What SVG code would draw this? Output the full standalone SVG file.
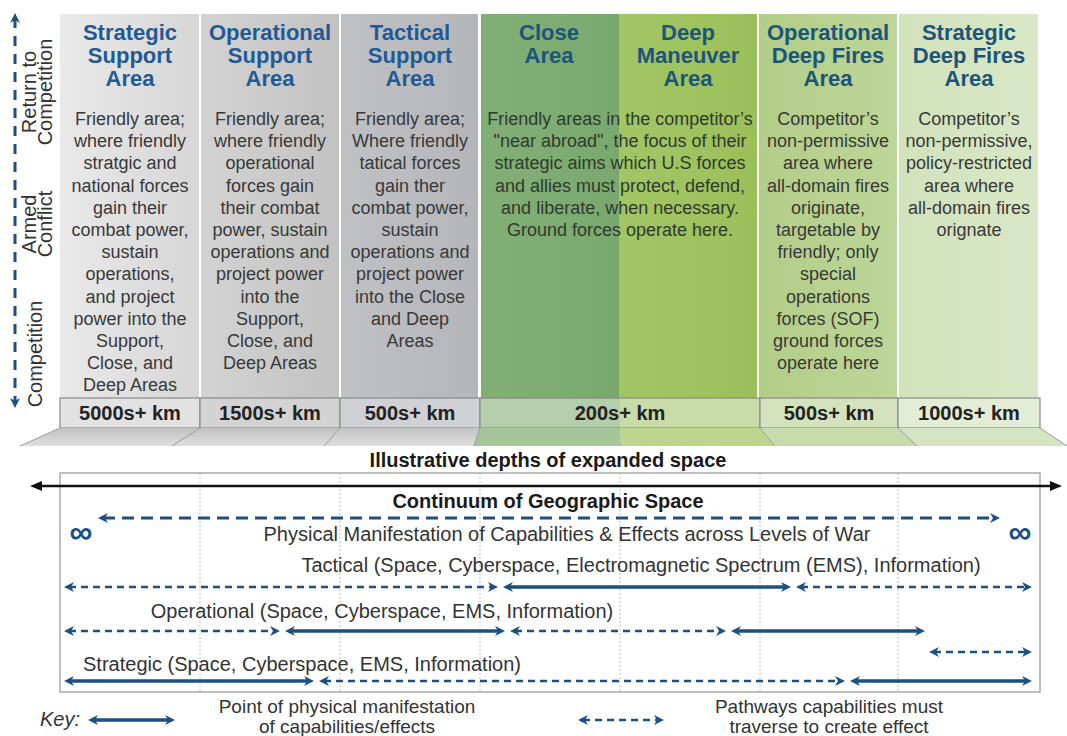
<svg xmlns="http://www.w3.org/2000/svg" width="1067" height="736" viewBox="0 0 1067 736">
<style>
.hdr{font-family:"Liberation Sans",Arial,sans-serif;font-weight:bold;font-size:22px;fill:#1f5a96;text-anchor:middle}
.hdrg{fill:#1d5578}
.body{font-family:"Liberation Sans",Arial,sans-serif;font-size:18px;fill:#383838;text-anchor:middle}
.km{font-family:"Liberation Sans",Arial,sans-serif;font-weight:bold;font-size:20px;fill:#222;text-anchor:middle}
.lbl{font-family:"Liberation Sans",Arial,sans-serif;font-size:20px;fill:#333;text-anchor:middle}
.keyt{font-family:"Liberation Sans",Arial,sans-serif;font-size:19px;fill:#333;text-anchor:middle}
.big{font-family:"Liberation Sans",Arial,sans-serif;font-weight:bold;font-size:20px;fill:#1a1a1a;text-anchor:middle}
.txt{font-family:"Liberation Sans",Arial,sans-serif;font-size:20px;fill:#333}
.inf{font-family:"Liberation Sans",Arial,sans-serif;font-weight:bold;font-size:32px;fill:#1c4f82;text-anchor:middle}
.cell{stroke:#8a8a8a;stroke-width:1.2}
.div{stroke:#9a9a9a;stroke-width:1;fill:none}
.grid{stroke:#bbbbbb;stroke-width:1;stroke-dasharray:2 2}
.sol{stroke:#1c4f82;stroke-width:3.5;fill:none;marker-start:url(#ah);marker-end:url(#ah)}
.dsh{stroke:#1c4f82;stroke-width:2.5;fill:none;stroke-dasharray:7 5;marker-start:url(#ah);marker-end:url(#ah)}
</style>
<defs>
<marker id="ah" viewBox="0 0 10 10" refX="5" refY="5" markerWidth="11" markerHeight="10" markerUnits="userSpaceOnUse" orient="auto-start-reverse"><path d="M0,0 L10,5 L0,10 L3,5 z" fill="#1c4f82"/></marker>
<marker id="bh" viewBox="0 0 12 10" refX="6" refY="5" markerWidth="13" markerHeight="10" markerUnits="userSpaceOnUse" orient="auto-start-reverse"><path d="M0,0 L12,5 L0,10 z" fill="#111"/></marker>
<linearGradient id="g1" x1="0" x2="1"><stop offset="0" stop-color="#e9e9e9"/><stop offset="1" stop-color="#d6d6d6"/></linearGradient>
<linearGradient id="g2" x1="0" x2="1"><stop offset="0" stop-color="#d3d3d3"/><stop offset="1" stop-color="#c2c2c2"/></linearGradient>
<linearGradient id="g3" x1="0" x2="1"><stop offset="0" stop-color="#c0c1c4"/><stop offset="1" stop-color="#b5b6ba"/></linearGradient>
<linearGradient id="g4" x1="0" x2="1"><stop offset="0" stop-color="#82af76"/><stop offset="1" stop-color="#7aa96f"/></linearGradient>
<linearGradient id="g5" x1="0" x2="1"><stop offset="0" stop-color="#a2c665"/><stop offset="1" stop-color="#9bc05a"/></linearGradient>
<linearGradient id="g6" x1="0" x2="1"><stop offset="0" stop-color="#b2ce88"/><stop offset="1" stop-color="#bdd699"/></linearGradient>
<linearGradient id="g7" x1="0" x2="1"><stop offset="0" stop-color="#d2e2bc"/><stop offset="1" stop-color="#d9e7c6"/></linearGradient>
<linearGradient id="fg" x1="0" y1="0" x2="0" y2="1"><stop offset="0" stop-color="#c2c2c2"/><stop offset="1" stop-color="#dedede"/></linearGradient>
</defs>
<rect width="1067" height="736" fill="#ffffff"/>

<g id="axis-labels">
<text class="lbl" transform="translate(36,92) rotate(-90)">Return to</text>
<text class="lbl" transform="translate(52,92) rotate(-90)">Competition</text>
<text class="lbl" transform="translate(36,224) rotate(-90)">Armed</text>
<text class="lbl" transform="translate(52,224) rotate(-90)">Conflict</text>
<text class="lbl" transform="translate(42,354) rotate(-90)">Competition</text>
</g>

<g id="col-strategic-support">
<rect x="60" y="14" width="139" height="384" fill="url(#g1)"/>
<text class="hdr"><tspan x="130" y="40">Strategic</tspan><tspan x="130" y="63">Support</tspan><tspan x="130" y="86">Area</tspan></text>
<text class="body"><tspan x="130" y="125">Friendly area;</tspan><tspan x="130" dy="22.2">where friendly</tspan><tspan x="130" dy="22.2">stratgic and</tspan><tspan x="130" dy="22.2">national forces</tspan><tspan x="130" dy="22.2">gain their</tspan><tspan x="130" dy="22.2">combat power,</tspan><tspan x="130" dy="22.2">sustain</tspan><tspan x="130" dy="22.2">operations,</tspan><tspan x="130" dy="22.2">and project</tspan><tspan x="130" dy="22.2">power into the</tspan><tspan x="130" dy="22.2">Support,</tspan><tspan x="130" dy="22.2">Close, and</tspan><tspan x="130" dy="22.2">Deep Areas</tspan></text>
</g>

<g id="col-operational-support">
<rect x="201" y="14" width="138" height="384" fill="url(#g2)"/>
<text class="hdr"><tspan x="270" y="40">Operational</tspan><tspan x="270" y="63">Support</tspan><tspan x="270" y="86">Area</tspan></text>
<text class="body"><tspan x="270" y="125">Friendly area;</tspan><tspan x="270" dy="22.2">where friendly</tspan><tspan x="270" dy="22.2">operational</tspan><tspan x="270" dy="22.2">forces gain</tspan><tspan x="270" dy="22.2">their combat</tspan><tspan x="270" dy="22.2">power, sustain</tspan><tspan x="270" dy="22.2">operations and</tspan><tspan x="270" dy="22.2">project power</tspan><tspan x="270" dy="22.2">into the</tspan><tspan x="270" dy="22.2">Support,</tspan><tspan x="270" dy="22.2">Close, and</tspan><tspan x="270" dy="22.2">Deep Areas</tspan></text>
</g>

<g id="col-tactical-support">
<rect x="341" y="14" width="137" height="384" fill="url(#g3)"/>
<text class="hdr"><tspan x="410" y="40">Tactical</tspan><tspan x="410" y="63">Support</tspan><tspan x="410" y="86">Area</tspan></text>
<text class="body"><tspan x="410" y="125">Friendly area;</tspan><tspan x="410" dy="22.2">Where friendly</tspan><tspan x="410" dy="22.2">tatical forces</tspan><tspan x="410" dy="22.2">gain ther</tspan><tspan x="410" dy="22.2">combat power,</tspan><tspan x="410" dy="22.2">sustain</tspan><tspan x="410" dy="22.2">operations and</tspan><tspan x="410" dy="22.2">project power</tspan><tspan x="410" dy="22.2">into the Close</tspan><tspan x="410" dy="22.2">and Deep</tspan><tspan x="410" dy="22.2">Areas</tspan></text>
</g>

<g id="col-close">
<rect x="481" y="14" width="138" height="384" fill="url(#g4)"/>
<text class="hdr hdrg"><tspan x="549" y="40">Close</tspan><tspan x="549" y="63">Area</tspan></text>
</g>

<g id="col-deep-maneuver">
<rect x="619" y="14" width="138" height="384" fill="url(#g5)"/>
<text class="hdr hdrg"><tspan x="688" y="40">Deep</tspan><tspan x="688" y="63">Maneuver</tspan><tspan x="688" y="86">Area</tspan></text>
</g>

<g id="close-deep-text">
<text class="body" style="fill:#2e3a2c"><tspan x="620" y="125">Friendly areas in the competitor’s</tspan><tspan x="620" dy="22.2">"near abroad", the focus of their</tspan><tspan x="620" dy="22.2">strategic aims which U.S forces</tspan><tspan x="620" dy="22.2">and allies must protect, defend,</tspan><tspan x="620" dy="22.2">and liberate, when necessary.</tspan><tspan x="620" dy="22.2">Ground forces operate here.</tspan></text>
</g>

<g id="col-operational-deep-fires">
<rect x="759" y="14" width="138" height="384" fill="url(#g6)"/>
<text class="hdr hdrg"><tspan x="828" y="40">Operational</tspan><tspan x="828" y="63">Deep Fires</tspan><tspan x="828" y="86">Area</tspan></text>
<text class="body"><tspan x="828" y="125">Competitor’s</tspan><tspan x="828" dy="22.2">non-permissive</tspan><tspan x="828" dy="22.2">area where</tspan><tspan x="828" dy="22.2">all-domain fires</tspan><tspan x="828" dy="22.2">originate,</tspan><tspan x="828" dy="22.2">targetable by</tspan><tspan x="828" dy="22.2">friendly; only</tspan><tspan x="828" dy="22.2">special</tspan><tspan x="828" dy="22.2">operations</tspan><tspan x="828" dy="22.2">forces (SOF)</tspan><tspan x="828" dy="22.2">ground forces</tspan><tspan x="828" dy="22.2">operate here</tspan></text>
</g>

<g id="col-strategic-deep-fires">
<rect x="899" y="14" width="139" height="384" fill="url(#g7)"/>
<text class="hdr hdrg"><tspan x="969" y="40">Strategic</tspan><tspan x="969" y="63">Deep Fires</tspan><tspan x="969" y="86">Area</tspan></text>
<text class="body"><tspan x="969" y="125">Competitor’s</tspan><tspan x="969" dy="22.2">non-permissive,</tspan><tspan x="969" dy="22.2">policy-restricted</tspan><tspan x="969" dy="22.2">area where</tspan><tspan x="969" dy="22.2">all-domain fires</tspan><tspan x="969" dy="22.2">orignate</tspan></text>
</g>

<g id="km-row">
<rect class="cell" x="60" y="398" width="140" height="30" fill="#e2e2e2"/>
<rect class="cell" x="200" y="398" width="140" height="30" fill="#d3d3d3"/>
<rect class="cell" x="340" y="398" width="140" height="30" fill="#d0d1d4"/>
<rect x="480" y="398" width="140" height="30" fill="#b4ceab"/>
<rect x="620" y="398" width="140" height="30" fill="#c9dca7"/>
<rect class="cell" x="480" y="398" width="280" height="30" fill="none"/>
<rect class="cell" x="760" y="398" width="138" height="30" fill="#d4e2bd"/>
<rect class="cell" x="898" y="398" width="142" height="30" fill="#e3ecd5"/>
<text class="km" x="130" y="420">5000s+ km</text>
<text class="km" x="270" y="420">1500s+ km</text>
<text class="km" x="410" y="420">500s+ km</text>
<text class="km" x="620" y="420">200s+ km</text>
<text class="km" x="829" y="420">500s+ km</text>
<text class="km" x="969" y="420">1000s+ km</text>
</g>

<g id="floor">
<polygon points="60,428 200,428 172,446 20,446" fill="url(#fg)"/>
<polygon points="200,428 340,428 324,446 172,446" fill="url(#fg)"/>
<polygon points="340,428 480,428 474,446 324,446" fill="url(#fg)"/>
<polygon points="480,428 620,428 622,446 474,446" fill="#a6c59b"/>
<polygon points="620,428 760,428 775,446 622,446" fill="#bcd78d"/>
<polygon points="760,428 898,428 917,446 775,446" fill="#c8dbaa"/>
<polygon points="898,428 1040,428 1067,446 917,446" fill="#d5e4c2"/>
<path class="div" d="M60,428 L20,446 M200,428 L172,446 M340,428 L324,446 M480,428 L474,446 M760,428 L775,446 M898,428 L917,446 M1040,428 L1067,446"/>
</g>

<text class="big" x="548" y="467">Illustrative depths of expanded space</text>

<g id="continuum-box">
<rect x="60" y="473" width="980" height="219" fill="#ffffff" stroke="#aaaaaa" stroke-width="1.5"/>
<path class="grid" d="M200,473 V692 M340,473 V692 M480,473 V692 M620,473 V692 M760,473 V692 M898,473 V692"/>
<text class="big" x="548" y="508">Continuum of Geographic Space</text>
<text class="inf" x="81" y="543">∞</text>
<text class="inf" x="1020" y="543">∞</text>
<text class="lbl" x="567" y="541">Physical Manifestation of Capabilities &amp; Effects across Levels of War</text>
<text class="lbl" x="641" y="572">Tactical (Space, Cyberspace, Electromagnetic Spectrum (EMS), Information)</text>
<text class="lbl" x="382" y="618">Operational (Space, Cyberspace, EMS, Information)</text>
<text class="lbl" x="302" y="671">Strategic (Space, Cyberspace, EMS, Information)</text>
</g>

<g id="connectors">
<line x1="36" y1="486" x2="1056" y2="486" stroke="#111" stroke-width="2.5" marker-start="url(#bh)" marker-end="url(#bh)"/>
<line x1="15" y1="18" x2="15" y2="403" stroke="#1c4f82" stroke-width="3" stroke-dasharray="10 8" marker-start="url(#ah)" marker-end="url(#ah)"/>
<line x1="103" y1="518" x2="995" y2="518" stroke="#1c4f82" stroke-width="3" stroke-dasharray="12 7" marker-start="url(#ah)" marker-end="url(#ah)"/>
<line class="dsh" x1="69" y1="587" x2="493" y2="587"/>
<line class="sol" x1="508" y1="587" x2="786" y2="587"/>
<line class="dsh" x1="801" y1="587" x2="1027" y2="587"/>
<line class="dsh" x1="69" y1="631" x2="275" y2="631"/>
<line class="sol" x1="290" y1="631" x2="500" y2="631"/>
<line class="dsh" x1="515" y1="631" x2="721" y2="631"/>
<line class="sol" x1="736" y1="631" x2="920" y2="631"/>
<line class="dsh" x1="934" y1="652" x2="1027" y2="652"/>
<line class="sol" x1="69" y1="681" x2="309" y2="681"/>
<line class="dsh" x1="324" y1="681" x2="840" y2="681"/>
<line class="sol" x1="855" y1="681" x2="1027" y2="681"/>
</g>

<g id="key">
<text class="txt" x="40" y="726" style="font-style:italic">Key:</text>
<line class="sol" x1="93" y1="720" x2="170" y2="720"/>
<text class="keyt"><tspan x="347" y="713">Point of physical manifestation</tspan><tspan x="347" y="733">of capabilities/effects</tspan></text>
<line class="dsh" x1="583" y1="720" x2="659" y2="720"/>
<text class="keyt"><tspan x="829" y="713">Pathways capabilities must</tspan><tspan x="829" y="733">traverse to create effect</tspan></text>
</g>
</svg>
